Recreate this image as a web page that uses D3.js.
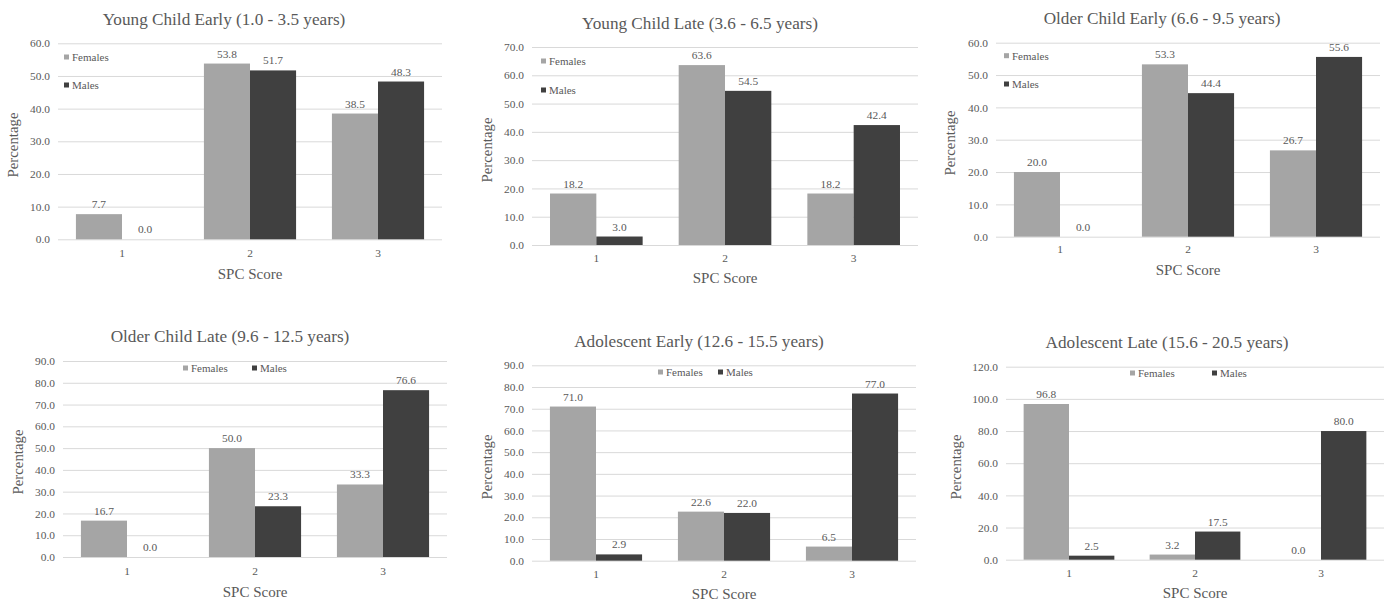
<!DOCTYPE html>
<html><head><meta charset="utf-8">
<script src="https://cdn.jsdelivr.net/npm/d3@7"></script>
<style>
html,body{margin:0;padding:0;background:#fff;}
</style></head>
<body><svg id="c" width="1392" height="604" style="font-family:'Liberation Serif','Times New Roman','DejaVu Serif',serif"></svg>
<script>
// ---- data ----
const titles = [
  "Young Child Early (1.0 - 3.5 years)",
  "Young Child Late (3.6 - 6.5 years)",
  "Older Child Early (6.6 - 9.5 years)",
  "Older Child Late (9.6 - 12.5 years)",
  "Adolescent Early (12.6 - 15.5 years)",
  "Adolescent Late (15.6 - 20.5 years)"
];
const categories = ["1", "2", "3"];
const seriesNames = ["Females", "Males"];
const females = [
  [7.7, 53.8, 38.5],
  [18.2, 63.6, 18.2],
  [20.0, 53.3, 26.7],
  [16.7, 50.0, 33.3],
  [71.0, 22.6, 6.5],
  [96.8, 3.2, 0.0]
];
const males = [
  [0.0, 51.7, 48.3],
  [3.0, 54.5, 42.4],
  [0.0, 44.4, 55.6],
  [0.0, 23.3, 76.6],
  [2.9, 22.0, 77.0],
  [2.5, 17.5, 80.0]
];
const yMax = [60, 70, 60, 90, 90, 120];
const yStep = [10, 10, 10, 10, 10, 20];
const xTitle = "SPC Score";
const yTitle = "Percentage";

// ---- layout (positions/styles) ----
const FONT = "'Liberation Serif','Times New Roman','DejaVu Serif',serif";
const TXT = "#595959";
const colors = ["#a5a5a5", "#404040"];
const layouts = [
  {l:58, r:442, t:43.3, b:239.3, tx:224, ty:25, leg:"v", lx:64, ly:[57,85], xt:257, xtt:279, ytx:13, yty:145},
  {l:532, r:918, t:47, b:245, tx:700, ty:29, leg:"v", lx:541, ly:[61,90], xt:262, xtt:283, ytx:487, yty:150},
  {l:996, r:1380, t:42.7, b:236.7, tx:1162, ty:24, leg:"v", lx:1004, ly:[55.7,84], xt:253, xtt:275, ytx:950, yty:143},
  {l:63, r:447, t:361, b:557, tx:230, ty:342, leg:"h", lx:[183,252], ly:368, xt:575, xtt:597, ytx:18, yty:462},
  {l:532, r:916, t:365.3, b:560.7, tx:699, ty:347, leg:"h", lx:[658,718], ly:372, xt:578, xtt:599, ytx:487, yty:467},
  {l:1006, r:1384, t:366.7, b:559.7, tx:1167, ty:348, leg:"h", lx:[1130,1212], ly:373, xt:577, xtt:598, ytx:956, yty:467}
];

const svg = d3.select("#c");

function styleText(sel, size) {
  return sel.attr("font-family", FONT).style("font-family", FONT)
    .style("font-size", size + "px").attr("fill", TXT).style("fill", TXT);
}

layouts.forEach((L, i) => {
  const g = svg.append("g");
  const y = d3.scaleLinear().domain([0, yMax[i]]).range([L.b, L.t]);
  const x = d3.scaleBand().domain(categories).range([L.l, L.r]).paddingInner(0.28).paddingOuter(0.14);
  const xs = d3.scaleBand().domain(seriesNames).range([0, x.bandwidth()]).padding(0);
  const ticks = d3.range(0, yMax[i] + yStep[i] / 2, yStep[i]);

  // y axis with gridlines
  const yAxis = d3.axisLeft(y).tickValues(ticks).tickSize(-(L.r - L.l)).tickPadding(8)
    .tickFormat(d3.format(".1f"));
  const ya = g.append("g").attr("transform", `translate(${L.l},0)`).call(yAxis)
    .attr("font-family", FONT);
  ya.select(".domain").remove();
  ya.selectAll(".tick line").attr("stroke", "#d9d9d9").attr("stroke-width", 1);
  styleText(ya.selectAll(".tick text"), 11.4);

  // x axis labels
  const xAxis = d3.axisBottom(x).tickSize(0).tickPadding(0);
  const xa = g.append("g").attr("transform", `translate(0,${L.b})`).call(xAxis)
    .attr("font-family", FONT);
  xa.select(".domain").remove();
  styleText(xa.selectAll(".tick text").attr("dy", null).attr("y", L.xt - L.b), 11.4);

  // bars
  const rows = categories.map((c, k) => ({c, vals: [females[i][k], males[i][k]]}));
  const grp = g.selectAll(".grp").data(rows).enter().append("g")
    .attr("transform", d => `translate(${x(d.c)},0)`);
  grp.selectAll("rect").data(d => d.vals.map((v, s) => ({v, s: seriesNames[s], si: s})))
    .enter().append("rect")
    .attr("x", d => xs(d.s)).attr("width", xs.bandwidth())
    .attr("y", d => y(d.v)).attr("height", d => y(0) - y(d.v))
    .attr("fill", d => colors[d.si]);
  styleText(grp.selectAll("text.lbl").data(d => d.vals.map((v, s) => ({v, s: seriesNames[s]})))
    .enter().append("text").attr("class", "lbl")
    .attr("x", d => xs(d.s) + xs.bandwidth() / 2).attr("y", d => y(d.v) - 6)
    .attr("text-anchor", "middle")
    .text(d => d3.format(".1f")(d.v)), 11.4);

  // title
  styleText(g.append("text").attr("x", L.tx).attr("y", L.ty).attr("text-anchor", "middle")
    .text(titles[i]), 17.2);
  // axis titles
  styleText(g.append("text").attr("x", (L.l + L.r) / 2).attr("y", L.xtt).attr("text-anchor", "middle")
    .text(xTitle), 15);
  styleText(g.append("text").attr("transform", `translate(${L.ytx + 5},${L.yty}) rotate(-90)`)
    .attr("text-anchor", "middle").text(yTitle), 14.8);

  // legend
  seriesNames.forEach((s, k) => {
    const lx = L.leg === "v" ? L.lx : L.lx[k];
    const ly = L.leg === "v" ? L.ly[k] : L.ly;
    g.append("rect").attr("x", lx).attr("y", ly - 2.5).attr("width", 5).attr("height", 5).attr("fill", colors[k]);
    styleText(g.append("text").attr("x", lx + 8).attr("y", ly + 3.8).text(s), 11);
  });
});
</script>
</body></html>
